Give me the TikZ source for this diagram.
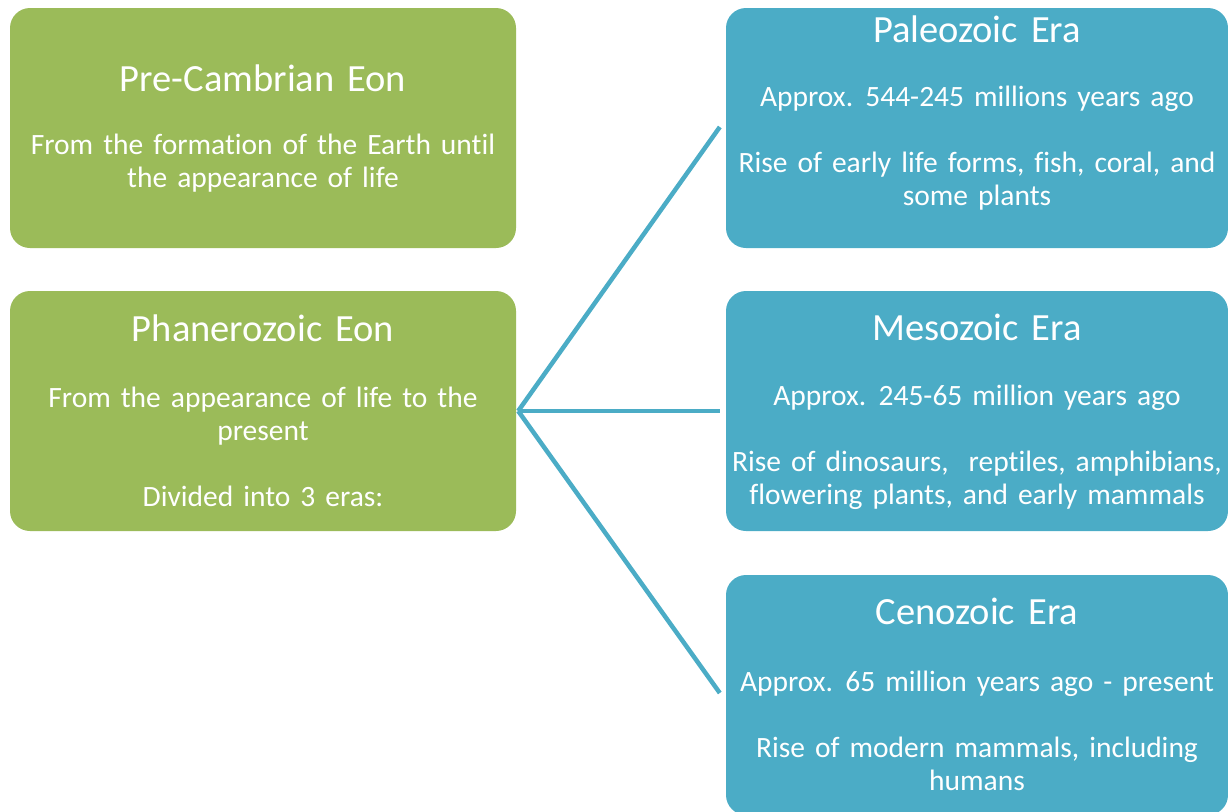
\documentclass[tikz,border=0pt]{standalone}
\usepackage{fontspec}
\setmainfont{Carlito}[WordSpace=1.5,Ligatures=NoCommon]
\definecolor{eongreen}{HTML}{9BBB59}
\definecolor{erablue}{HTML}{4BACC6}
\begin{document}
\begin{tikzpicture}[x=1pt,y=-1pt,
 eonbox/.style={fill=eongreen,rounded corners=20pt,minimum width=506pt,minimum height=240pt,inner sep=0pt},
 erabox/.style={fill=erablue,rounded corners=20pt,minimum width=502pt,minimum height=240pt,inner sep=0pt},
 boxtitle/.style={text=white,font=\fontsize{38.5}{47}\selectfont,inner sep=0pt},
 boxtext/.style={text=white,font=\fontsize{29.5}{33}\selectfont,align=center,inner sep=0pt},
 link/.style={draw=erablue,line width=4.5pt}]
 \useasboundingbox (0,0) rectangle (1228,811);
 \clip (0,0) rectangle (1228,811);
 % eons
 \node[eonbox] (pre) at (263,128) {};
 \node[eonbox] (phan) at (263,411) {};
 % eras
 \node[erabox] (pal) at (977,128) {};
 \node[erabox] (mes) at (977,411) {};
 \node[erabox] (cen) at (977,695) {};
 % texts
 \node[boxtitle] (preT) at ([yshift=-70pt]pre.north) {Pre-Cambrian Eon};
 \node[boxtext] (preB) at ([yshift=-155pt]pre.north) {From the formation of the Earth until\\the appearance of life};
 \node[boxtitle] (phanT) at ([yshift=-37pt]phan.north) {Phanerozoic Eon};
 \node[boxtext] (phanB) at ([yshift=-156pt]phan.north) {From the appearance of life to the\\present\\[33pt]Divided into 3 eras:};
 \node[boxtitle] (palT) at ([yshift=-21pt]pal.north) {Paleozoic Era};
 \node[boxtext] (palB) at ([yshift=-140pt]pal.north) {Approx. 544-245 millions years ago\\[33pt]Rise of early life forms, fish, coral, and\\some plants};
 \node[boxtitle] (mesT) at ([yshift=-37pt]mes.north) {Mesozoic Era};
 \node[boxtext] (mesB) at ([yshift=-156pt]mes.north) {Approx. 245-65 million years ago\\[33pt]Rise of dinosaurs,~ reptiles, amphibians,\\flowering plants, and early mammals};
 \node[boxtitle] (cenT) at ([yshift=-37pt]cen.north) {Cenozoic Era};
 \node[boxtext] (cenB) at ([yshift=-156pt]cen.north) {Approx. 65 million years ago - present\\[33pt]Rise of modern mammals, including\\humans};
 % links
 \coordinate (hub) at ([xshift=2pt]phan.east);
 \draw[link] (hub) -- ([xshift=-6pt,yshift=1pt]pal.west);
 \draw[link] (hub) -- ([xshift=-6pt]mes.west);
 \draw[link] (hub) -- ([xshift=-6pt,yshift=2pt]cen.west);
\end{tikzpicture}
\end{document}
